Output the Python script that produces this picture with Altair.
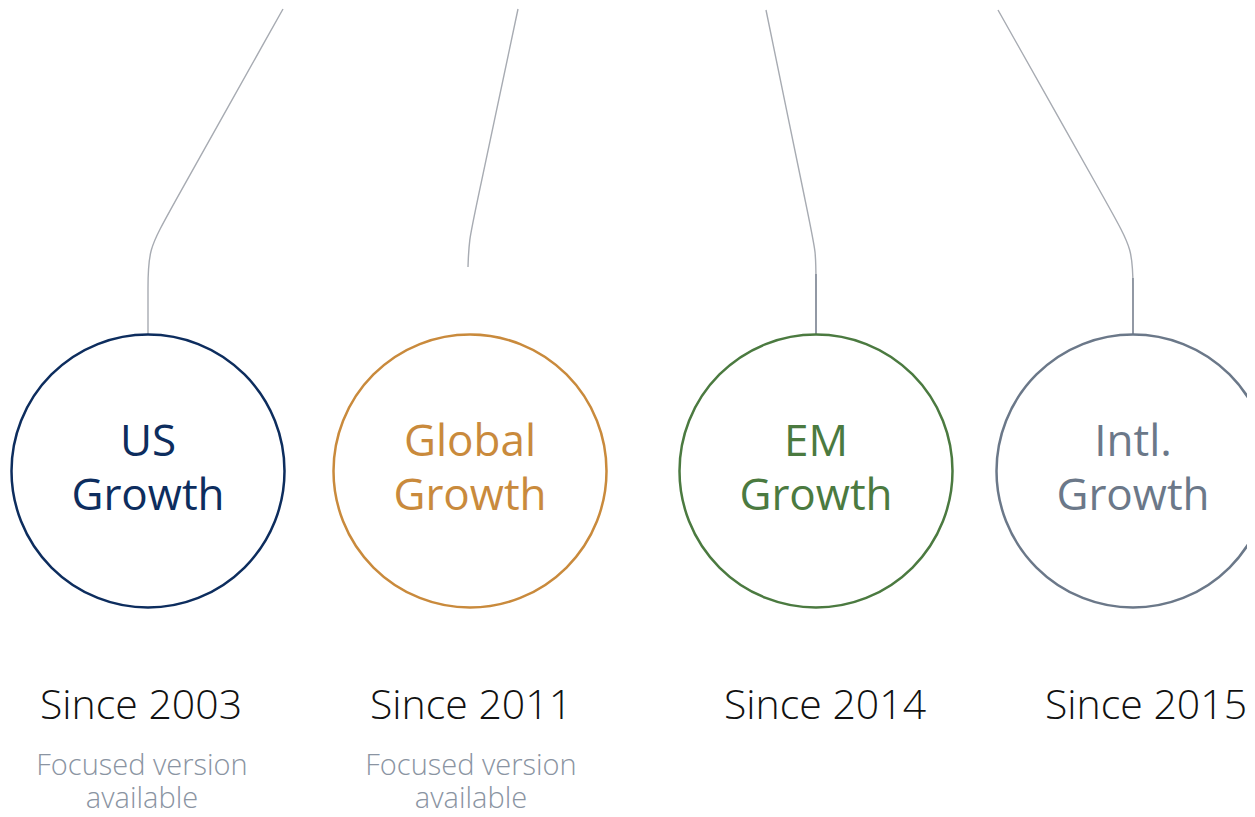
import altair as alt
import pandas as pd

# ---- data -------------------------------------------------------------
names = ["US", "Global", "EM", "Intl."]
line2 = ["Growth", "Growth", "Growth", "Growth"]
colors = ["#0d2d5e", "#c98a3c", "#4b7a40", "#6b7889"]
center_x = [148, 470, 816, 1133]
center_y = [471, 471, 471, 471]
since = ["Since 2003", "Since 2011", "Since 2014", "Since 2015"]
since_x = [141, 471, 825, 1146]
note_a = ["Focused version", "Focused version"]
note_b = ["available", "available"]
note_x = [142, 471]

# connector way-points (screen pixels)
conn_id = ["US"] * 5 + ["Global"] * 4 + ["EM"] * 5 + ["Intl."] * 5
conn_x = [283, 168, 148, 148, 148,
          518, 475, 469, 468,
          766, 810, 816, 816, 816,
          998, 1113, 1133, 1133, 1133]
conn_y = [9, 214, 250, 286, 335,
          9, 212, 240, 267,
          10, 224, 252, 280, 335,
          10, 214, 250, 286, 335]
stem_x = [816, 1133]
stem_top = [274, 278]
stem_bottom = [335, 335]

# ---- tables -----------------------------------------------------------
circles = pd.DataFrame({"name": names, "x": center_x, "y": center_y,
                        "l1": names, "l2": line2})
conn = pd.DataFrame({"id": conn_id, "x": conn_x, "y": conn_y,
                     "i": list(range(len(conn_x)))})
stems = pd.DataFrame({"x": stem_x, "y": stem_top, "y2": stem_bottom})
sinc = pd.DataFrame({"t": since, "x": since_x})
notes = pd.DataFrame({"a": note_a, "b": note_b, "x": note_x})

W, H = 1239, 801
xs = alt.Scale(domain=[8, 8 + W], nice=False, zero=False)
ys = alt.Scale(domain=[8, 8 + H], nice=False, zero=False, reverse=True)
col = alt.Color("name:N", scale=alt.Scale(domain=names, range=colors), legend=None)
FONT = "Open Sans"

connectors = alt.Chart(conn).mark_line(
    interpolate="basis", color="#a7abb2", strokeWidth=1.4
).encode(
    x=alt.X("x:Q", scale=xs, axis=None),
    y=alt.Y("y:Q", scale=ys, axis=None),
    detail="id:N",
    order="i:Q",
)

stem = alt.Chart(stems).mark_rule(color="#7e8795", strokeWidth=1.4).encode(
    x=alt.X("x:Q", scale=xs, axis=None),
    y=alt.Y("y:Q", scale=ys, axis=None),
    y2="y2:Q",
)

rings = alt.Chart(circles).mark_point(
    shape="circle", filled=False, strokeWidth=2.5, size=273 ** 2, opacity=1
).encode(
    x=alt.X("x:Q", scale=xs, axis=None),
    y=alt.Y("y:Q", scale=ys, axis=None),
    color=col,
)

lab1 = alt.Chart(circles).mark_text(
    font=FONT, fontSize=44, fontWeight=400, baseline="alphabetic", align="center", dy=-15
).encode(
    x=alt.X("x:Q", scale=xs, axis=None),
    y=alt.Y("y:Q", scale=ys, axis=None),
    text="l1:N",
    color=col,
)
lab2 = alt.Chart(circles).mark_text(
    font=FONT, fontSize=44, fontWeight=400, baseline="alphabetic", align="center", dy=39
).encode(
    x=alt.X("x:Q", scale=xs, axis=None),
    y=alt.Y("y:Q", scale=ys, axis=None),
    text="l2:N",
    color=col,
)

since_t = alt.Chart(sinc).mark_text(
    font=FONT, fontSize=41, fontWeight=300, baseline="alphabetic", align="center",
    color="#111111"
).encode(
    x=alt.X("x:Q", scale=xs, axis=None),
    y=alt.Y("yy:Q", scale=ys, axis=None),
    text="t:N",
).transform_calculate(yy="719")

note_t1 = alt.Chart(notes).mark_text(
    font=FONT, fontSize=29, fontWeight=300, baseline="alphabetic", align="center",
    color="#8a94a2"
).encode(
    x=alt.X("x:Q", scale=xs, axis=None),
    y=alt.Y("yy:Q", scale=ys, axis=None),
    text="a:N",
).transform_calculate(yy="775")

note_t2 = alt.Chart(notes).mark_text(
    font=FONT, fontSize=29, fontWeight=300, baseline="alphabetic", align="center",
    color="#8a94a2"
).encode(
    x=alt.X("x:Q", scale=xs, axis=None),
    y=alt.Y("yy:Q", scale=ys, axis=None),
    text="b:N",
).transform_calculate(yy="808")

chart = alt.layer(
    connectors, stem, rings, lab1, lab2, since_t, note_t1, note_t2
).properties(
    width=W, height=H, padding=0, autosize=alt.AutoSizeParams(type="none")
).configure_view(stroke=None)

chart.save("out.html", embed_options={"renderer": "svg", "actions": False})
